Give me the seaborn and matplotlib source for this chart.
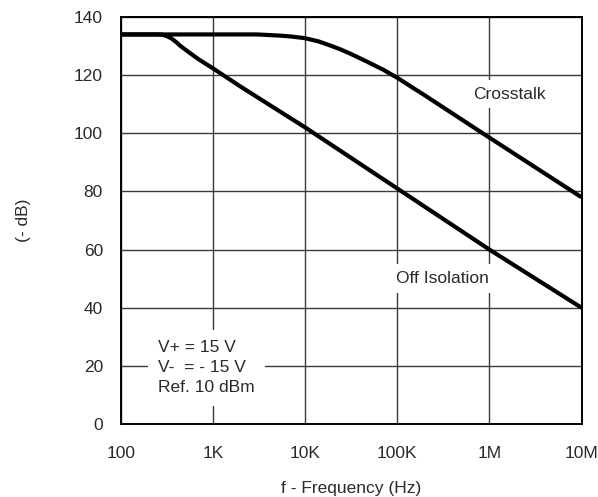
import matplotlib
matplotlib.use("Agg")
import matplotlib.pyplot as plt
import seaborn as sns
import pandas as pd
from matplotlib.ticker import FixedLocator, NullLocator

# Data
crosstalk_freq = [100, 1000, 3000, 5300, 7000, 10000, 14000, 18700, 24000, 30800, 40000, 50000, 70000, 100000, 150000, 200000, 1e6, 1e7]
crosstalk_db = [134.0, 134.0, 134.0, 133.6, 133.3, 132.7, 131.6, 130.2, 128.9, 127.4, 125.7, 124.2, 121.9, 119.1, 115.5, 113.0, 98.5, 78.0]
offiso_freq = [100, 250, 280, 310, 350, 400, 440, 550, 700, 1000, 2000, 10000, 100000, 1e6, 1e7]
offiso_db = [134.0, 134.0, 133.9, 133.5, 132.7, 131.3, 130.1, 127.8, 125.4, 122.3, 116.0, 102.0, 81.0, 60.0, 40.0]
xticks = [100, 1e3, 1e4, 1e5, 1e6, 1e7]
xticklabels = ["100", "1K", "10K", "100K", "1M", "10M"]
yticks = [0, 20, 40, 60, 80, 100, 120, 140]

sns.set_theme(style="white")
plt.rcParams['font.family'] = ['Liberation Sans', 'DejaVu Sans']

df = pd.concat([
    pd.DataFrame({"f": crosstalk_freq, "db": crosstalk_db, "s": "Crosstalk"}),
    pd.DataFrame({"f": offiso_freq, "db": offiso_db, "s": "Off Isolation"}),
])

TXT = "#2a2a2a"
FS = 12.5

fig = plt.figure(figsize=(5.98, 4.97), dpi=100)
ax = fig.add_axes([121/598, 1 - 424/497, 460.5/598, 407/497])
ax.set_xscale("log")
sns.lineplot(data=df, x="f", y="db", units="s", estimator=None, color="black",
             linewidth=3.0, ax=ax, legend=False, solid_capstyle="butt")
ax.set_xlim(100, 1e7)
ax.set_ylim(0, 140)
ax.xaxis.set_major_locator(FixedLocator(xticks))
ax.xaxis.set_minor_locator(NullLocator())
ax.set_xticklabels(xticklabels)
ax.set_yticks(yticks)
ax.grid(True, color="#3a3a3a", linewidth=1.0)
ax.set_axisbelow(True)
for sp in ax.spines.values():
    sp.set_color("black")
    sp.set_linewidth(1.4)
ax.tick_params(axis="both", length=0, labelsize=FS, labelcolor=TXT)
ax.tick_params(axis="x", pad=16)
ax.tick_params(axis="y", pad=13)
ax.set_xlabel("f - Frequency (Hz)", fontsize=FS, color=TXT, labelpad=14)
ax.set_ylabel("(- dB)", fontsize=FS, color=TXT, labelpad=31)

bb = dict(facecolor="white", edgecolor="none", boxstyle="square,pad=0.4")
ax.text(1.63e6, 113.5, "Crosstalk", ha="center", va="center", fontsize=FS, color=TXT, bbox=bb)
ax.text(3.06e5, 50.2, "Off Isolation", ha="center", va="center", fontsize=FS, color=TXT, bbox=bb)
ax.text(252, 19.3, "V+ = 15 V\nV-  = - 15 V\nRef. 10 dBm", ha="left", va="center", fontsize=FS,
        color=TXT, linespacing=1.42,
        bbox=dict(facecolor="white", edgecolor="none", boxstyle="square,pad=0.6"))

fig.savefig("out.png", dpi=100)
